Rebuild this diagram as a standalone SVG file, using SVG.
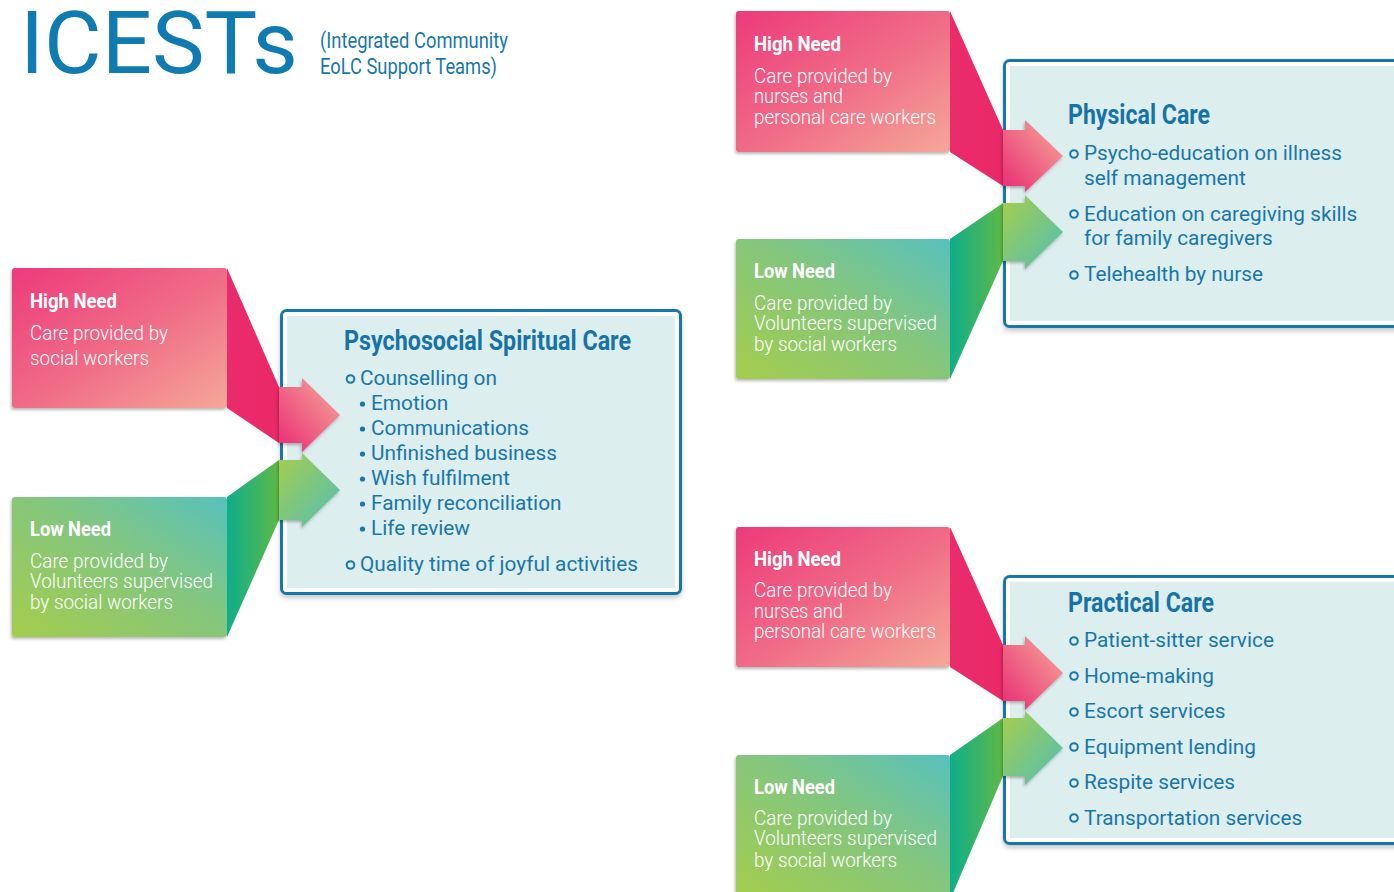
<svg xmlns="http://www.w3.org/2000/svg" width="1394" height="892" viewBox="0 0 1394 892">
<defs>
<linearGradient id="gPinkBox" x1="0" y1="0" x2="1" y2="1">
<stop offset="0" stop-color="#ec3a7a"/><stop offset="0.55" stop-color="#f06f88"/><stop offset="1" stop-color="#f5a898"/>
</linearGradient>
<linearGradient id="gPinkWedge" x1="0" y1="0" x2="1" y2="0">
<stop offset="0" stop-color="#ea2c6c"/><stop offset="1" stop-color="#ea2868"/>
</linearGradient>
<linearGradient id="gPinkArrow" x1="0" y1="1" x2="1" y2="0">
<stop offset="0" stop-color="#e92a74"/><stop offset="1" stop-color="#f6ac9a"/>
</linearGradient>
<linearGradient id="gGreenBox" x1="0" y1="1" x2="1" y2="0">
<stop offset="0" stop-color="#a4cd4c"/><stop offset="0.55" stop-color="#84c67e"/><stop offset="1" stop-color="#58c1bd"/>
</linearGradient>
<linearGradient id="gGreenWedge" x1="0" y1="0" x2="1" y2="0">
<stop offset="0" stop-color="#0eae8a"/><stop offset="1" stop-color="#5eb946"/>
</linearGradient>
<linearGradient id="gGreenArrow" x1="0" y1="0" x2="1" y2="1">
<stop offset="0" stop-color="#a6cd4c"/><stop offset="1" stop-color="#50bfb6"/>
</linearGradient>
<filter id="sh" x="-10%" y="-10%" width="120%" height="125%">
<feDropShadow dx="-1" dy="2" stdDeviation="1.5" flood-color="#000" flood-opacity="0.28"/>
</filter>
<filter id="sh2" x="-10%" y="-10%" width="120%" height="125%">
<feDropShadow dx="0" dy="3" stdDeviation="2.5" flood-color="#000" flood-opacity="0.22"/>
</filter>
</defs>
<style>
.need{font-family:Roboto,"Liberation Sans",sans-serif;fill:#fff;font-size:20px}
.nh{font-weight:700;font-size:21px}
.nt{font-weight:300}
.outer{fill:#fff;stroke:#1877a8;stroke-width:3}
.inner{fill:#ddeeee}
.ttl{font-family:Roboto,"Liberation Sans",sans-serif;font-weight:700;font-size:28px;fill:#1773a5}
.it{font-family:Roboto,"Liberation Sans",sans-serif;font-size:20.8px;fill:#1877a8}
.ob{fill:none;stroke:#1877a8;stroke-width:2}
.db{fill:#1877a8}
</style>

<g id="title">
<text x="20" y="73" font-family="Roboto,'Liberation Sans',sans-serif" font-size="88" fill="#0f7bb0" textLength="278" lengthAdjust="spacingAndGlyphs">ICESTs</text>
<text x="320" y="48" font-family="Roboto,'Liberation Sans',sans-serif" font-size="22" fill="#1877a8" textLength="188" lengthAdjust="spacingAndGlyphs">(Integrated Community</text>
<text x="320" y="74" font-family="Roboto,'Liberation Sans',sans-serif" font-size="22" fill="#1877a8" textLength="177" lengthAdjust="spacingAndGlyphs">EoLC Support Teams)</text>
</g>

<!-- Care boxes -->
<g id="psychosocial">
<rect class="outer" x="281.5" y="310.5" width="399" height="283" rx="5" filter="url(#sh2)"/>
<rect class="inner" x="287" y="316" width="388" height="272"/>
<text class="ttl" x="344" y="350" textLength="287" lengthAdjust="spacingAndGlyphs">Psychosocial Spiritual Care</text>
<circle class="ob" cx="350.5" cy="379" r="3.8"/><text class="it" x="360" y="385">Counselling on</text>
<circle class="db" cx="362.5" cy="404" r="2.6"/><text class="it" x="371" y="410">Emotion</text>
<circle class="db" cx="362.5" cy="429" r="2.6"/><text class="it" x="371" y="435">Communications</text>
<circle class="db" cx="362.5" cy="454" r="2.6"/><text class="it" x="371" y="460">Unfinished business</text>
<circle class="db" cx="362.5" cy="479" r="2.6"/><text class="it" x="371" y="485">Wish fulfilment</text>
<circle class="db" cx="362.5" cy="504" r="2.6"/><text class="it" x="371" y="510">Family reconciliation</text>
<circle class="db" cx="362.5" cy="529" r="2.6"/><text class="it" x="371" y="535">Life review</text>
<circle class="ob" cx="350.5" cy="565" r="3.8"/><text class="it" x="360" y="571">Quality time of joyful activities</text>
</g>

<g id="physical">
<rect class="outer" x="1004.5" y="60.5" width="400" height="266" rx="5" filter="url(#sh2)"/>
<rect class="inner" x="1010" y="66" width="390" height="255"/>
<text class="ttl" x="1068" y="124" textLength="142" lengthAdjust="spacingAndGlyphs">Physical Care</text>
<circle class="ob" cx="1074" cy="154" r="3.8"/><text class="it" x="1084" y="160">Psycho-education on illness</text>
<text class="it" x="1084" y="185">self management</text>
<circle class="ob" cx="1074" cy="214" r="3.8"/><text class="it" x="1084" y="221">Education on caregiving skills</text>
<text class="it" x="1084" y="245">for family caregivers</text>
<circle class="ob" cx="1074" cy="275" r="3.8"/><text class="it" x="1084" y="281">Telehealth by nurse</text>
</g>

<g id="practical">
<rect class="outer" x="1004.5" y="576.5" width="400" height="267" rx="5" filter="url(#sh2)"/>
<rect class="inner" x="1010" y="582" width="390" height="256"/>
<text class="ttl" x="1068" y="612" textLength="146" lengthAdjust="spacingAndGlyphs">Practical Care</text>
<circle class="ob" cx="1074" cy="641" r="3.8"/><text class="it" x="1084" y="647">Patient-sitter service</text>
<circle class="ob" cx="1074" cy="676" r="3.8"/><text class="it" x="1084" y="683">Home-making</text>
<circle class="ob" cx="1074" cy="712" r="3.8"/><text class="it" x="1084" y="718">Escort services</text>
<circle class="ob" cx="1074" cy="747" r="3.8"/><text class="it" x="1084" y="754">Equipment lending</text>
<circle class="ob" cx="1074" cy="783" r="3.8"/><text class="it" x="1084" y="789">Respite services</text>
<circle class="ob" cx="1074" cy="818" r="3.8"/><text class="it" x="1084" y="825">Transportation services</text>
</g>

<!-- Need boxes -->
<g id="psy-high">
<rect x="12" y="268" width="215" height="140" rx="3" fill="url(#gPinkBox)" filter="url(#sh)"/>
<text class="need nh" x="30" y="308" textLength="87" lengthAdjust="spacingAndGlyphs">High Need</text>
<text class="need nt" x="30" y="340" textLength="138" lengthAdjust="spacingAndGlyphs">Care provided by</text>
<text class="need nt" x="30" y="365" textLength="119" lengthAdjust="spacingAndGlyphs">social workers</text>
</g>
<g id="psy-low">
<rect x="12" y="497" width="215" height="140" rx="3" fill="url(#gGreenBox)" filter="url(#sh)"/>
<text class="need nh" x="30" y="536" textLength="81" lengthAdjust="spacingAndGlyphs">Low Need</text>
<text class="need nt" x="30" y="568" textLength="138" lengthAdjust="spacingAndGlyphs">Care provided by</text>
<text class="need nt" x="30" y="588" textLength="183" lengthAdjust="spacingAndGlyphs">Volunteers supervised</text>
<text class="need nt" x="30" y="609" textLength="143" lengthAdjust="spacingAndGlyphs">by social workers</text>
</g>
<g id="phy-high">
<rect x="736" y="11" width="214" height="141" rx="3" fill="url(#gPinkBox)" filter="url(#sh)"/>
<text class="need nh" x="754" y="51" textLength="87" lengthAdjust="spacingAndGlyphs">High Need</text>
<text class="need nt" x="754" y="83" textLength="138" lengthAdjust="spacingAndGlyphs">Care provided by</text>
<text class="need nt" x="754" y="103" textLength="89" lengthAdjust="spacingAndGlyphs">nurses and</text>
<text class="need nt" x="754" y="124" textLength="182" lengthAdjust="spacingAndGlyphs">personal care workers</text>
</g>
<g id="phy-low">
<rect x="736" y="239" width="214" height="140" rx="3" fill="url(#gGreenBox)" filter="url(#sh)"/>
<text class="need nh" x="754" y="278" textLength="81" lengthAdjust="spacingAndGlyphs">Low Need</text>
<text class="need nt" x="754" y="310" textLength="138" lengthAdjust="spacingAndGlyphs">Care provided by</text>
<text class="need nt" x="754" y="330" textLength="183" lengthAdjust="spacingAndGlyphs">Volunteers supervised</text>
<text class="need nt" x="754" y="351" textLength="143" lengthAdjust="spacingAndGlyphs">by social workers</text>
</g>
<g id="pra-high">
<rect x="736" y="527" width="214" height="140" rx="3" fill="url(#gPinkBox)" filter="url(#sh)"/>
<text class="need nh" x="754" y="566" textLength="87" lengthAdjust="spacingAndGlyphs">High Need</text>
<text class="need nt" x="754" y="597" textLength="138" lengthAdjust="spacingAndGlyphs">Care provided by</text>
<text class="need nt" x="754" y="618" textLength="89" lengthAdjust="spacingAndGlyphs">nurses and</text>
<text class="need nt" x="754" y="638" textLength="182" lengthAdjust="spacingAndGlyphs">personal care workers</text>
</g>
<g id="pra-low">
<rect x="736" y="755" width="214" height="145" rx="3" fill="url(#gGreenBox)" filter="url(#sh)"/>
<text class="need nh" x="754" y="794" textLength="81" lengthAdjust="spacingAndGlyphs">Low Need</text>
<text class="need nt" x="754" y="825" textLength="138" lengthAdjust="spacingAndGlyphs">Care provided by</text>
<text class="need nt" x="754" y="845" textLength="183" lengthAdjust="spacingAndGlyphs">Volunteers supervised</text>
<text class="need nt" x="754" y="867" textLength="143" lengthAdjust="spacingAndGlyphs">by social workers</text>
</g>

<!-- Connectors: wedges and arrows -->
<g id="connectors">
<polygon points="227,268 279,387 279,443 227,408" fill="url(#gPinkWedge)"/>
<polygon points="279,387 302,387 302,378 340,415 302,452 302,443 279,443" fill="url(#gPinkArrow)" filter="url(#sh)"/>
<polygon points="227,497 279,460 279,520 227,637" fill="url(#gGreenWedge)"/>
<polygon points="279,460 302,460 302,453 340,490 302,527 302,520 279,520" fill="url(#gGreenArrow)" filter="url(#sh)"/>

<polygon points="950,11 1003,130 1003,186 950,152" fill="url(#gPinkWedge)"/>
<polygon points="1003,130 1025,130 1025,120 1063,156 1025,192 1025,186 1003,186" fill="url(#gPinkArrow)" filter="url(#sh)"/>
<polygon points="950,239 1003,203 1003,261 950,379" fill="url(#gGreenWedge)"/>
<polygon points="1003,203 1025,203 1025,195 1063,232 1025,269 1025,261 1003,261" fill="url(#gGreenArrow)" filter="url(#sh)"/>

<polygon points="950,527 1003,645 1003,701 950,667" fill="url(#gPinkWedge)"/>
<polygon points="1003,645 1025,645 1025,636 1063,673 1025,710 1025,701 1003,701" fill="url(#gPinkArrow)" filter="url(#sh)"/>
<polygon points="950,755 1003,718 1003,776 950,900" fill="url(#gGreenWedge)"/>
<polygon points="1003,718 1025,718 1025,711 1063,748 1025,785 1025,776 1003,776" fill="url(#gGreenArrow)" filter="url(#sh)"/>
</g>
</svg>
